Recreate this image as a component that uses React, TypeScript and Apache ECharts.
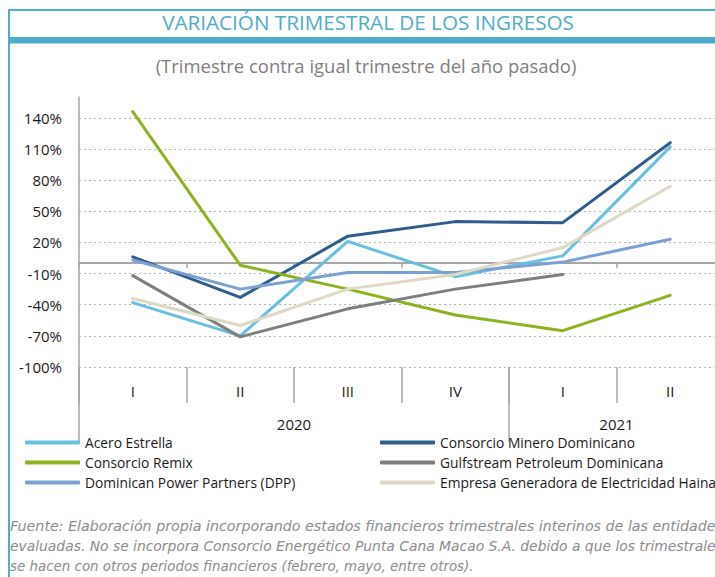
import React, { useEffect, useRef } from 'react';
import * as echarts from 'echarts';

// ---------- data ----------
const quarters = ['I', 'II', 'III', 'IV', 'I', 'II'];
const years = ['2020', '2021'];
const quartersPerYear = [4, 2];
const yTicks = [-100, -70, -40, -10, 20, 50, 80, 110, 140];

const seriesNames = [
  'Acero Estrella',
  'Consorcio Minero Dominicano',
  'Consorcio Remix',
  'Gulfstream Petroleum Dominicana',
  'Dominican Power Partners (DPP)',
  'Empresa Generadora de Electricidad Haina',
];
const aceroEstrella = [-38, -70, 21, -13, 7, 112];
const consorcioMinero = [6, -33, 26, 40, 39, 116];
const consorcioRemix = [146, -2, -25, -50, -65, -31];
const gulfstream = [-12, -71, -44, -25, -11, null];
const dpp = [3, -25, -9, -9, 1, 23];
const haina = [-34, -60, -25, -11, 15, 74];
const seriesColors = ['#67BFE2', '#2F5E8E', '#8DB31F', '#7F7F7F', '#7BA1D2', '#DDD9C4'];

const titleText = 'VARIACIÓN TRIMESTRAL DE LOS INGRESOS';
const subtitleText = '(Trimestre contra igual trimestre del año pasado)';
const footerLines = [
  'Fuente: Elaboración propia incorporando estados financieros trimestrales interinos de las entidade',
  'evaluadas. No se incorpora Consorcio Energético Punta Cana Macao S.A. debido a que los trimestrale',
  'se hacen con otros periodos financieros (febrero, mayo, entre otros).',
];

const FONT = '"Open Sans", "Noto Sans", sans-serif';
const FOOT_FONT = '"Liberation Sans Narrow", "DejaVu Sans Condensed", "Liberation Sans", sans-serif';
const BLUE = '#4FADC7';
const AXIS = '#A6A6A6';

function measure(text: string, font: string): number {
  try {
    const c = document.createElement('canvas');
    const ctx = c.getContext('2d');
    if (!ctx) return text.length * 7;
    ctx.font = font;
    return ctx.measureText(text).width;
  } catch (e) {
    return text.length * 7;
  }
}

function fitSize(text: string, family: string, base: number, target: number, style = ''): number {
  const w = measure(text, `${style} ${base}px ${family}`);
  return w > 0 ? (base * target) / w : base;
}

export default function App() {
  const ref = useRef<HTMLDivElement>(null);

  useEffect(() => {
    if (!ref.current) return;
    const chart = echarts.init(ref.current, undefined, { renderer: 'svg' });

    // year boundaries / centers on a 0..n value scale matching the category bands
    const yearBounds: number[] = [0];
    const yearCenters: number[] = [];
    let acc = 0;
    quartersPerYear.forEach((n) => {
      yearCenters.push(acc + n / 2);
      acc += n;
      yearBounds.push(acc);
    });

    const titleSize = fitSize(titleText, FONT, 20, 412);
    const subSize = fitSize(subtitleText, FONT, 16, 421);

    // footer: size from the last (non-justified) line, stretch others to full width
    const footSize = fitSize(footerLines[2], FOOT_FONT, 14, 464, 'italic');
    const footFont = `italic ${footSize}px ${FOOT_FONT}`;
    const footerEls = footerLines.map((t, i) => {
      const w = measure(t, footFont);
      const sx = i < 2 && w > 0 ? 705 / w : 1;
      return {
        type: 'text',
        x: 10,
        y: 526 + i * 20,
        scaleX: sx,
        style: {
          text: t,
          font: footFont,
          fill: '#8C8C8C',
          textAlign: 'left',
          align: 'left',
          textVerticalAlign: 'middle',
          verticalAlign: 'middle',
        },
      };
    });

    const dataSets = [aceroEstrella, consorcioMinero, consorcioRemix, gulfstream, dpp, haina];

    const legendBase = {
      orient: 'vertical',
      top: 435,
      padding: 0,
      itemWidth: 55,
      itemHeight: 4,
      itemGap: 5,
      icon: 'roundRect',
      textStyle: { fontSize: 13.8, lineHeight: 15, color: '#1a1a1a', fontFamily: FONT },
    };

    const option: any = {
      animation: false,
      backgroundColor: '#ffffff',
      color: seriesColors,
      grid: { left: 79, top: 97, width: 645, height: 270, containLabel: false, outerBoundsMode: 'none' },
      xAxis: [
        {
          type: 'category',
          data: quarters,
          position: 'bottom',
          boundaryGap: true,
          axisLine: { show: true, onZero: true, lineStyle: { color: AXIS, width: 2 } },
          axisTick: { show: true, length: 5, lineStyle: { color: AXIS, width: 1.5 } },
          axisLabel: { show: false },
          splitLine: { show: false },
        },
        {
          type: 'category',
          data: quarters,
          position: 'bottom',
          boundaryGap: true,
          axisLine: { show: false, onZero: false },
          axisTick: { show: true, length: 36, lineStyle: { color: AXIS, width: 1.5 } },
          axisLabel: { show: true, margin: 16, fontSize: 15, color: '#1a1a1a', fontFamily: FONT },
          splitLine: { show: false },
        },
        {
          type: 'value',
          min: 0,
          max: quarters.length,
          position: 'bottom',
          axisLine: { show: false, onZero: false },
          axisTick: { show: true, length: 75, customValues: yearBounds, lineStyle: { color: AXIS, width: 1.5 } },
          axisLabel: {
            show: true,
            customValues: yearCenters,
            formatter: (v: number) => {
              const i = yearCenters.indexOf(v);
              return i >= 0 ? years[i] : '';
            },
            margin: 49,
            fontSize: 15,
            lineHeight: 15,
            color: '#1a1a1a',
            fontFamily: FONT,
          },
          splitLine: { show: false },
        },
      ],
      yAxis: {
        type: 'value',
        min: -100,
        max: 160,
        axisLine: { show: true, onZero: false, lineStyle: { color: AXIS, width: 1.5 } },
        axisTick: { show: false, customValues: yTicks },
        axisLabel: {
          customValues: yTicks,
          formatter: (v: number) => `${v}%`,
          margin: 17,
          fontSize: 15,
          color: '#1a1a1a',
          fontFamily: FONT,
        },
        splitLine: { show: true, lineStyle: { color: '#B4B4B4', width: 1, type: [2, 3] } },
      },
      legend: [
        { ...legendBase, data: [seriesNames[0], seriesNames[2], seriesNames[4]], left: 25 },
        { ...legendBase, data: [seriesNames[1], seriesNames[3], seriesNames[5]], left: 380 },
      ],
      series: seriesNames.map((name, i) => ({
        name,
        type: 'line',
        xAxisIndex: 0,
        yAxisIndex: 0,
        data: dataSets[i],
        showSymbol: false,
        symbol: 'none',
        connectNulls: false,
        lineStyle: { width: 3, color: seriesColors[i], join: 'round', cap: 'round' },
        itemStyle: { color: seriesColors[i] },
      })),
      graphic: [
        { type: 'rect', shape: { x: 8, y: 9, width: 707, height: 2 }, style: { fill: BLUE }, silent: true },
        { type: 'rect', shape: { x: 8, y: 9, width: 2, height: 568 }, style: { fill: BLUE }, silent: true },
        { type: 'rect', shape: { x: 10, y: 37, width: 705, height: 6.5 }, style: { fill: BLUE }, silent: true },
        {
          type: 'text',
          x: 368,
          y: 21.5,
          style: {
            text: titleText,
            font: `${titleSize}px ${FONT}`,
            fill: BLUE,
            textAlign: 'center',
            align: 'center',
            textVerticalAlign: 'middle',
            verticalAlign: 'middle',
          },
        },
        {
          type: 'text',
          x: 366,
          y: 65,
          style: {
            text: subtitleText,
            font: `${subSize}px ${FONT}`,
            fill: '#7F7F7F',
            textAlign: 'center',
            align: 'center',
            textVerticalAlign: 'middle',
            verticalAlign: 'middle',
          },
        },
        ...footerEls,
      ],
    };

    chart.setOption(option);
    return () => chart.dispose();
  }, []);

  return (
    <div
      ref={ref}
      style={{ position: 'fixed', left: 0, top: 0, width: 715, height: 577, background: '#fff' }}
    />
  );
}
